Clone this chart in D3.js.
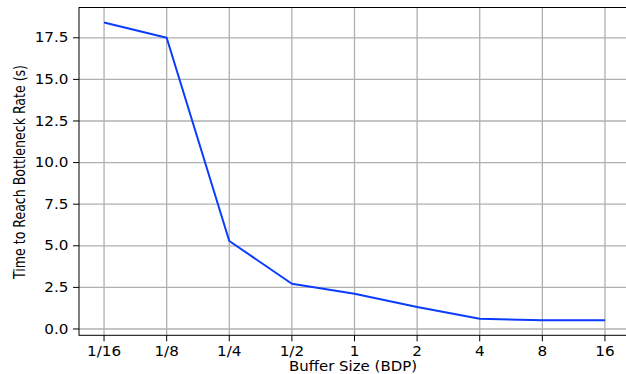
<!DOCTYPE html>
<html><head><meta charset="utf-8">
<script src="https://cdn.jsdelivr.net/npm/d3@7"></script>
<style>body{margin:0;background:#fff}svg{display:block}</style>
</head><body>
<svg id="c" width="626" height="374"></svg>
<script>
const categories = ["1/16","1/8","1/4","1/2","1","2","4","8","16"];
const values = [18.42, 17.5, 5.29, 2.72, 2.12, 1.32, 0.62, 0.52, 0.52];
const yTicks = [0, 2.5, 5, 7.5, 10, 12.5, 15, 17.5];
const xLabel = "Buffer Size (BDP)";
const yLabel = "Time to Reach Bottleneck Rate (s)";

const svg = d3.select("#c");
const L = 79, R = 630, T = 7.5, B = 335.3;
const font = "DejaVu Sans, sans-serif";

const x = d3.scalePoint().domain(categories).range([L, R]).padding(0.4);
const y = d3.scaleLinear().domain([-0.38, 19.32]).range([B, T]);

// grid
svg.append("g").selectAll("line").data(categories).join("line")
  .attr("x1", d => x(d)).attr("x2", d => x(d)).attr("y1", T).attr("y2", B)
  .attr("stroke", "#b0b0b0").attr("stroke-width", 1.3);
svg.append("g").selectAll("line").data(yTicks).join("line")
  .attr("x1", L).attr("x2", R).attr("y1", d => y(d)).attr("y2", d => y(d))
  .attr("stroke", "#b0b0b0").attr("stroke-width", 1.3);

// line
svg.append("path").datum(values)
  .attr("d", d3.line().x((d, i) => x(categories[i])).y(d => y(d)))
  .attr("fill", "none").attr("stroke", "#0a3cff").attr("stroke-width", 2)
  .attr("stroke-linejoin", "round");

// spines
svg.append("rect").attr("x", L).attr("y", T).attr("width", R - L).attr("height", B - T)
  .attr("fill", "none").attr("stroke", "#000").attr("stroke-width", 1);

// ticks
svg.append("g").selectAll("line").data(categories).join("line")
  .attr("x1", d => x(d)).attr("x2", d => x(d)).attr("y1", B).attr("y2", B + 6)
  .attr("stroke", "#000").attr("stroke-width", 1);
svg.append("g").selectAll("line").data(yTicks).join("line")
  .attr("x1", L - 6).attr("x2", L).attr("y1", d => y(d)).attr("y2", d => y(d))
  .attr("stroke", "#000").attr("stroke-width", 1);

const sx = 1.15;
svg.append("g").selectAll("g").data(categories).join("g")
  .attr("transform", d => `translate(${x(d)},355.5) scale(${sx},1)`)
  .append("text").attr("text-anchor", "middle").attr("font-family", font)
  .attr("font-size", 13.2).attr("fill", "#000").text(d => d);
svg.append("g").selectAll("g").data(yTicks).join("g")
  .attr("transform", d => `translate(68.5,${y(d) + 4.7}) scale(${sx},1)`)
  .append("text").attr("text-anchor", "end").attr("font-family", font)
  .attr("font-size", 13.2).attr("fill", "#000").text(d => d3.format(".1f")(d));

// axis labels
svg.append("text").attr("x", 289).attr("y", 371).attr("font-family", font)
  .attr("font-size", 13.8).attr("textLength", 128).attr("lengthAdjust", "spacingAndGlyphs")
  .text(xLabel);
svg.append("text").attr("transform", "translate(24.5,279) rotate(-90)")
  .attr("font-family", font).attr("font-size", 15)
  .attr("textLength", 214).attr("lengthAdjust", "spacingAndGlyphs")
  .text(yLabel);
</script>
</body></html>
